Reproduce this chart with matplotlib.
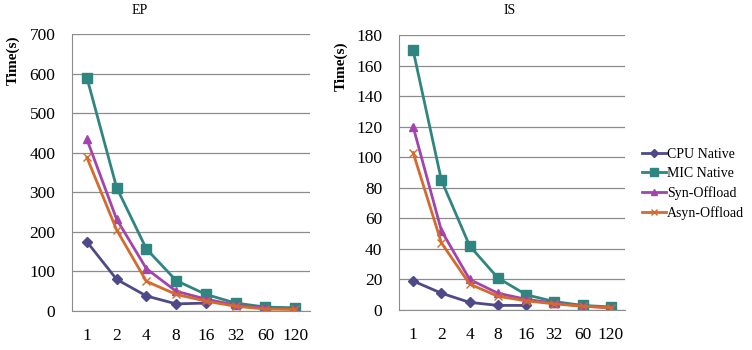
import matplotlib.pyplot as plt

threads = ['1', '2', '4', '8', '16', '32', '60', '120']

# EP benchmark times (s)
ep_cpu = [175, 80, 38, 18, 20]
ep_mic = [590, 312, 157, 77, 42, 20, 10, 8]
ep_syn = [434, 232, 107, 50, 30, 15, 7, 5]
ep_asyn = [388, 205, 75, 42, 25, 12, 5, 4]

# IS benchmark times (s)
is_cpu = [19, 11, 5, 3, 3]
is_mic = [170, 85, 42, 21, 10, 5.5, 3, 2]
is_syn = [120, 52, 20, 11, 7, 4.5, 2.5, 1.5]
is_asyn = [103, 44, 17, 9, 6, 4, 2.5, 1.5]

labels = ['CPU Native', 'MIC Native', 'Syn-Offload', 'Asyn-Offload']
colors = ['#4E4A8A', '#2F8580', '#A343AD', '#D46A2C']
markers = ['D', 's', '^', 'x']
msizes = [5, 7, 6, 6]

plt.rcParams['font.family'] = ['Liberation Serif', 'DejaVu Serif']

fig = plt.figure(figsize=(7.52, 3.5), dpi=100)
ax1 = fig.add_axes([72 / 752, 1 - 311 / 350, 238 / 752, 277 / 350])
ax2 = fig.add_axes([399 / 752, 1 - 310 / 350, 226 / 752, 275 / 350])


def draw(ax, series, ymax, step, title, title_x, ylab_xy):
    for vals, lab, c, m, ms in zip(series, labels, colors, markers, msizes):
        x = list(range(len(vals)))
        ax.plot(x, vals, color=c, marker=m, markersize=ms, lw=2, label=lab,
                markeredgecolor=c)
    ax.set_xlim(-0.5, len(threads) - 0.5)
    ax.set_ylim(0, ymax)
    ax.set_yticks(range(0, ymax + 1, step))
    ax.set_xticks(range(len(threads)))
    ax.set_xticklabels(threads)
    ax.yaxis.grid(True, color='#8c8c8c', lw=0.9)
    ax.set_axisbelow(True)
    for s in ['top', 'right']:
        ax.spines[s].set_visible(False)
    for s in ['left', 'bottom']:
        ax.spines[s].set_color('#8c8c8c')
    ax.tick_params(axis='both', labelsize=12.5, length=0)
    ax.tick_params(axis='y', pad=12)
    ax.tick_params(axis='x', pad=12)
    ax.set_ylabel('Time(s)', fontsize=11, fontweight='bold')
    ax.yaxis.set_label_coords(*ylab_xy)
    fig.text(title_x, 1 - 11 / 350, title, fontsize=10, ha='center', va='center')


draw(ax1, [ep_cpu, ep_mic, ep_syn, ep_asyn], 700, 100, 'EP', 140 / 752,
     (-0.218, 0.906))
draw(ax2, [is_cpu, is_mic, is_syn, is_asyn], 180, 20, 'IS', 510 / 752,
     (-0.226, 0.887))

ax2.legend(loc='center left', bbox_to_anchor=(642 / 752, 1 - 184 / 350),
           bbox_transform=fig.transFigure, frameon=False, fontsize=10,
           handlelength=1.7, handletextpad=0.1, labelspacing=0.45,
           borderpad=0, borderaxespad=0, markerscale=0.8)

fig.savefig('out.png', dpi=100)
